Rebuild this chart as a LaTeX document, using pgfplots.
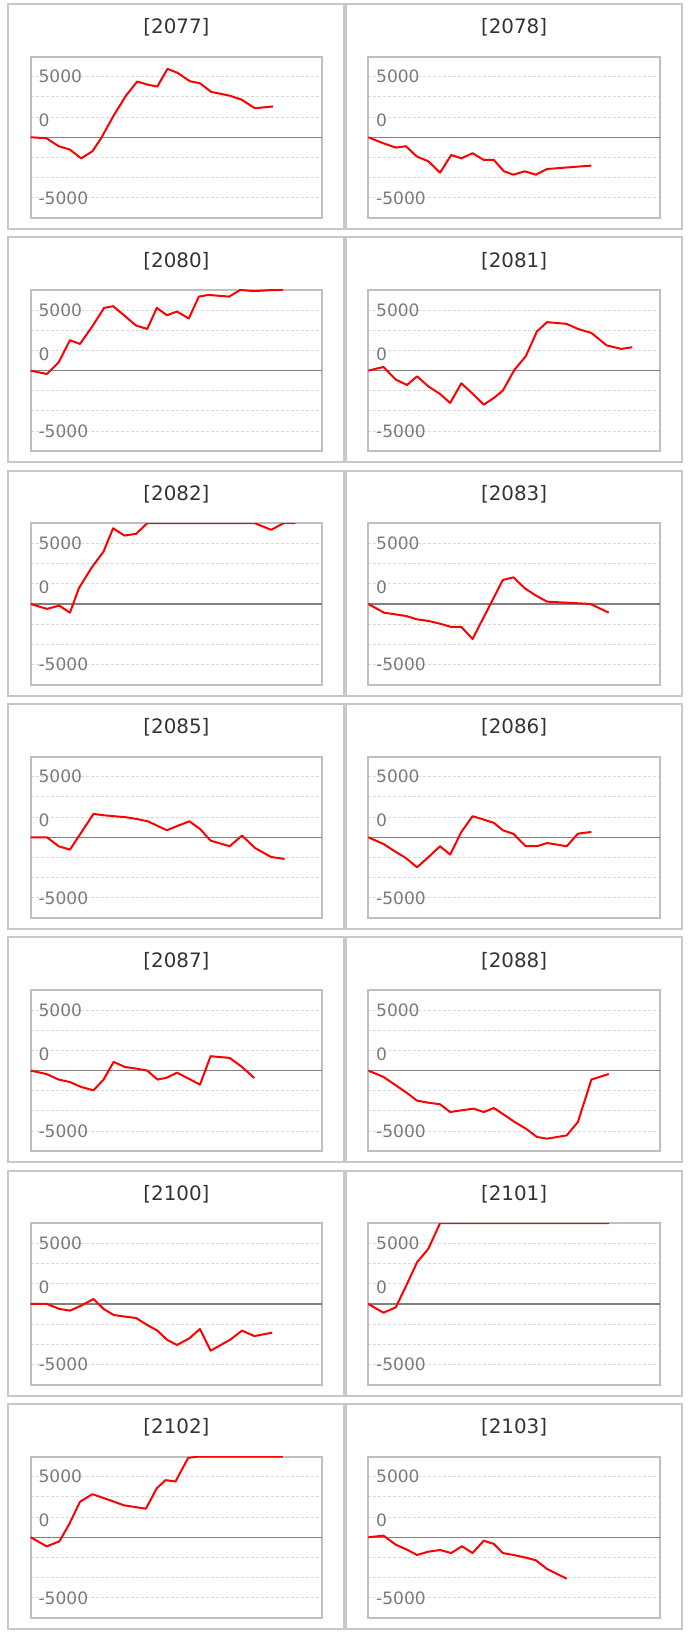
\documentclass[border=0pt]{standalone}
\usepackage{fontspec}
\setmainfont{DejaVu Sans}
\usepackage{pgfplots}
\pgfplotsset{compat=1.18}
\definecolor{panelgray}{HTML}{C8C8C8}
\definecolor{boxgray}{HTML}{BFBFBF}
\definecolor{gridgray}{HTML}{D9D9D9}
\definecolor{zerogray}{HTML}{808080}
\definecolor{labelgray}{HTML}{7A7A7A}
\definecolor{titlecol}{HTML}{333333}
\definecolor{linered}{HTML}{FF0000}

\pgfplotsset{spark/.style={
  scale only axis, width=218.6pt, height=121.1pt,
  xmin=0, xmax=26, ymin=-6666.67, ymax=6666.67,
  axis line style={draw=boxgray, line width=1.5pt},
  xtick=\empty,
  ytick={-5000,5000}, yticklabels={-5000,5000},
  minor ytick={-3333.33,-1666.67,1666.67,3333.33},
  ymajorgrids, yminorgrids,
  major grid style={draw=gridgray, line width=0.75pt, dash pattern=on 2.25pt off 1.5pt},
  minor grid style={draw=gridgray, line width=0.75pt, dash pattern=on 2.25pt off 1.5pt},
  major tick length=0pt, minor tick length=0pt,
  yticklabel style={anchor=west, inner sep=0pt, xshift=5.7pt, text=labelgray, font=\fontsize{12.8}{15}\selectfont},
  extra y ticks={0}, extra y tick labels={0},
  extra y tick style={major grid style={solid, draw=zerogray, line width=1.1pt}, yticklabel style={yshift=12.45pt}},
  title style={at={(0.5,1)}, anchor=center, yshift=15.8pt, text=titlecol, font=\fontsize{14.9}{17}\selectfont},
}}

\newcommand{\panel}[6]{%
  \draw[panelgray, line width=1.5pt] ({#2*0.75pt},{-#4*0.75pt}) rectangle ({#3*0.75pt},{-(#4+225)*0.75pt});
  \begin{axis}[spark, at={({#1*0.75pt},{-(#4+214)*0.75pt})}, anchor=south west, title={#5}]
  \addplot[linered, line width=1.5pt, mark=none, line join=round] coordinates {#6};
  \end{axis}
}

\begin{document}
\begin{tikzpicture}
\path (0,0) rectangle (517.5pt,-1224.75pt);

% Row 0
\panel{30.7}{7.8}{343.7}{4}{[2077]}{(0,0) (1.4,-80) (2.5,-740) (3.5,-1020) (4.5,-1740) (5.5,-1160) (6.3,-50) (7.4,1790) (8.5,3440) (9.5,4600) (10.5,4330) (11.3,4190) (12.2,5650) (13.1,5320) (14.2,4630) (15.1,4460) (16.1,3750) (17.0,3580) (17.8,3420) (18.8,3110) (20.0,2400) (21.6,2540)}
\panel{368.3}{345.7}{681.5}{4}{[2078]}{(0,0) (1.35,-500) (2.45,-850) (3.35,-740) (4.35,-1600) (5.35,-1980) (6.4,-2920) (7.4,-1460) (8.3,-1740) (9.3,-1320) (10.3,-1870) (11.2,-1870) (12.1,-2810) (12.95,-3090) (13.95,-2810) (14.95,-3090) (15.95,-2620) (19.9,-2340)}

% Row 1
\panel{30.7}{7.8}{343.7}{237.33}{[2080]}{(0,0) (1.45,-280) (2.5,690) (3.5,2510) (4.4,2200) (5.5,3660) (6.55,5180) (7.35,5320) (8.35,4550) (9.4,3720) (10.4,3440) (11.25,5180) (12.15,4570) (13.05,4880) (14.1,4300) (15.0,6110) (15.85,6250) (17.7,6110) (18.7,6667) (19.85,6560) (21.3,6640) (22.5,6667)}
\panel{368.3}{345.7}{681.5}{237.33}{[2081]}{(0,0) (1.35,300) (2.45,-740) (3.45,-1190) (4.35,-470) (5.35,-1300) (6.4,-1930) (7.3,-2670) (8.3,-1050) (9.3,-1900) (10.3,-2810) (11.2,-2260) (12.0,-1650) (13.05,80) (14.05,1190) (15.05,3250) (15.95,4000) (17.7,3860) (18.7,3440) (19.9,3110) (21.25,2090) (22.55,1790) (23.55,1930)}

% Row 2
\panel{30.7}{7.8}{343.7}{470.67}{[2082]}{(0,0) (1.45,-410) (2.55,-140) (3.5,-720) (4.3,1300) (5.4,2950) (6.5,4330) (7.35,6250) (8.35,5650) (9.4,5790) (10.4,6667) (20.0,6667) (21.45,6120) (22.55,6667) (23.6,6667)}
\panel{368.3}{345.7}{681.5}{470.67}{[2083]}{(0,0) (1.4,-720) (3.35,-990) (4.35,-1270) (5.35,-1400) (6.4,-1630) (7.4,-1900) (8.3,-1900) (9.3,-2890) (12.0,1980) (12.95,2200) (13.95,1300) (14.95,690) (15.95,190) (19.8,0) (21.45,-720)}

% Row 3
\panel{30.7}{7.8}{343.7}{704}{[2085]}{(0,0) (1.45,0) (2.5,-740) (3.5,-1020) (5.6,1930) (6.5,1820) (8.5,1650) (9.4,1520) (10.45,1320) (12.15,580) (13.15,960) (14.15,1320) (15.1,690) (16.05,-280) (17.75,-740) (18.85,140) (20.0,-880) (21.45,-1630) (22.65,-1790)}
\panel{368.3}{345.7}{681.5}{704}{[2086]}{(0,0) (1.35,-550) (2.45,-1210) (3.35,-1710) (4.35,-2480) (5.35,-1650) (6.4,-740) (7.3,-1430) (8.3,440) (9.3,1740) (10.3,1460) (11.2,1190) (12.0,580) (12.95,280) (14.05,-740) (15.05,-740) (15.95,-470) (17.7,-740) (18.7,300) (19.9,440)}

% Row 4
\panel{30.7}{7.8}{343.7}{937.33}{[2087]}{(0,0) (1.4,-280) (2.5,-740) (3.5,-940) (4.5,-1350) (5.6,-1630) (6.5,-740) (7.4,720) (8.4,300) (9.4,170) (10.4,0) (11.3,-740) (12.15,-580) (13.05,-170) (14.15,-690) (15.1,-1160) (16.05,1190) (17.75,1050) (18.85,300) (19.95,-610)}
\panel{368.3}{345.7}{681.5}{937.33}{[2088]}{(0,0) (1.35,-520) (2.45,-1210) (3.45,-1850) (4.35,-2480) (5.35,-2650) (6.4,-2780) (7.3,-3420) (8.3,-3280) (9.4,-3140) (10.3,-3420) (11.2,-3090) (12.1,-3640) (13.05,-4240) (14.05,-4790) (15.05,-5480) (15.95,-5620) (17.7,-5350) (18.7,-4240) (19.9,-740) (21.45,-280)}

% Row 5
\panel{30.7}{7.8}{343.7}{1170.67}{[2100]}{(0,0) (1.45,0) (2.55,-410) (3.5,-550) (4.5,-140) (5.6,410) (6.5,-410) (7.4,-910) (8.45,-1050) (9.4,-1160) (10.4,-1740) (11.3,-2200) (12.15,-2950) (13.05,-3390) (14.15,-2840) (15.1,-2070) (16.05,-3860) (17.8,-2950) (18.85,-2200) (19.95,-2650) (21.55,-2370)}
\panel{368.3}{345.7}{681.5}{1170.67}{[2101]}{(0,0) (1.35,-720) (2.45,-280) (3.45,1650) (4.35,3440) (5.35,4550) (6.4,6667) (21.45,6667)}

% Row 6
\panel{30.7}{7.8}{343.7}{1404}{[2102]}{(0,0) (1.43,-750) (2.56,-330) (3.45,1110) (4.4,2940) (5.5,3560) (7.07,3060) (8.32,2640) (10.28,2360) (11.23,4030) (12.03,4720) (12.92,4610) (14.05,6560) (14.95,6667) (22.5,6667)}
\panel{368.3}{345.7}{681.5}{1404}{[2103]}{(0,0) (1.35,140) (2.45,-610) (3.45,-1020) (4.35,-1460) (5.35,-1190) (6.4,-1050) (7.4,-1300) (8.35,-740) (9.3,-1300) (10.3,-280) (11.2,-550) (12.0,-1300) (12.95,-1460) (14.05,-1680) (14.95,-1900) (15.95,-2620) (17.7,-3420)}
\end{tikzpicture}
\end{document}
